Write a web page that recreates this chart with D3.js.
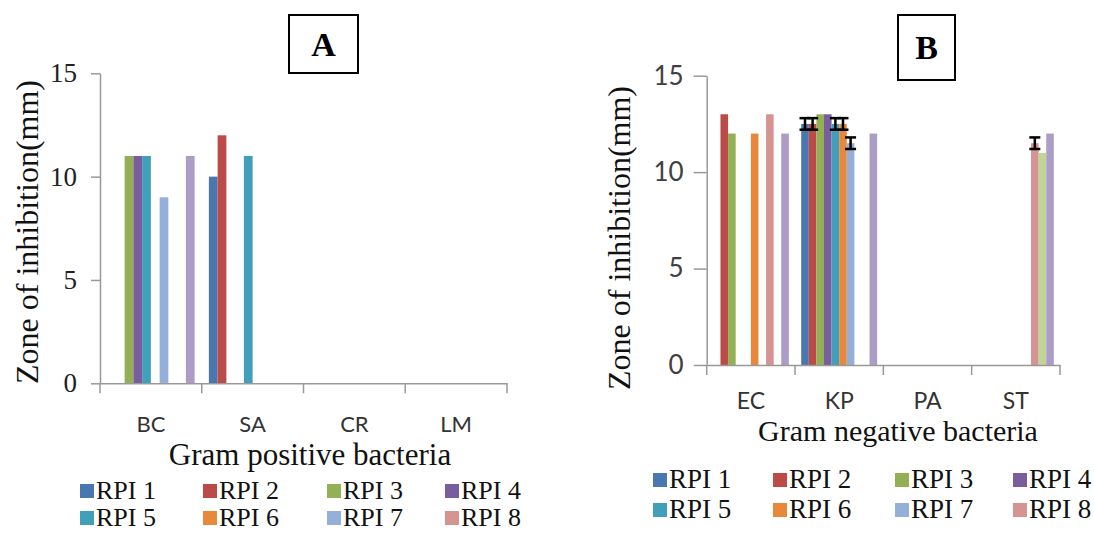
<!DOCTYPE html>
<html><head><meta charset="utf-8">
<script src="https://cdn.jsdelivr.net/npm/d3@7"></script>
<style>body{margin:0;background:#fff}svg{display:block}</style>
</head><body>
<svg id="c" width="1094" height="533"></svg>
<script>
// ---------- data ----------
const seriesNames = ["RPI 1","RPI 2","RPI 3","RPI 4","RPI 5","RPI 6","RPI 7","RPI 8","RPI 9","RPI 10"];
const legendNames = ["RPI 1","RPI 2","RPI 3","RPI 4","RPI 5","RPI 6","RPI 7","RPI 8"];
const seriesColors = ["#4A77AF","#BC4A47","#93B154","#7A5D9C","#429FB9","#E8883B","#95B0D8","#D59391","#BED596","#AC9DC6"];
const yTicks = [0,5,10,15];

const catsA = ["BC","SA","CR","LM"];
const valsA = {
  BC: [0,0,11,11,11,0,9,0,0,11],
  SA: [10,12,0,0,11,0,0,0,0,0],
  CR: [0,0,0,0,0,0,0,0,0,0],
  LM: [0,0,0,0,0,0,0,0,0,0]
};
const catsB = ["EC","KP","PA","ST"];
const valsB = {
  EC: [0,13,12,0,0,12,0,13,0,12],
  KP: [12.5,12.5,13,13,12.5,12.5,11.5,0,0,12],
  PA: [0,0,0,0,0,0,0,0,0,0],
  ST: [0,0,0,0,0,0,0,11.5,11,12]
};
const errB = {
  EC: [0,0,0,0,0,0,0,0,0,0],
  KP: [0.3,0.3,0,0,0.3,0.3,0.3,0,0,0],
  PA: [0,0,0,0,0,0,0,0,0,0],
  ST: [0,0,0,0,0,0,0,0.3,0,0]
};

// ---------- drawing ----------
const svg = d3.select("#c");
const SERIF = "'Liberation Serif','Times New Roman',serif";
const SANS = "Lato,'Liberation Sans',sans-serif";
const AXIS = "#999";

function panel(o){
  const g = svg.append("g");
  const x0 = d3.scaleBand().domain(o.cats).range([o.left, o.right]);
  const W = x0.bandwidth();
  const gap = W*0.14;
  const x1 = d3.scaleBand().domain(seriesNames).range([gap/2, W-gap/2]);
  const y = d3.scaleLinear().domain([0,15]).range([o.bottom, o.top]);

  // bars
  o.cats.forEach(c=>{
    const vals = o.vals[c];
    g.append("g").selectAll("rect").data(vals.map((v,i)=>({v,i})).filter(d=>d.v>0)).join("rect")
      .attr("x", d=>x0(c)+x1(seriesNames[d.i]))
      .attr("width", x1.bandwidth())
      .attr("y", d=>y(d.v))
      .attr("height", d=>y(0)-y(d.v))
      .attr("fill", d=>seriesColors[d.i]);
  });
  // error bars
  if(o.err){
    o.cats.forEach(c=>{
      const vals=o.vals[c], errs=o.err[c];
      errs.forEach((e,i)=>{
        if(!(e>0)) return;
        const cx = x0(c)+x1(seriesNames[i])+x1.bandwidth()/2;
        const cw = 5.5;
        const eg = g.append("g").attr("stroke","#000").attr("stroke-width",2.5);
        eg.append("line").attr("x1",cx).attr("x2",cx).attr("y1",y(vals[i]+e)).attr("y2",y(vals[i]-e));
        eg.append("line").attr("x1",cx-cw).attr("x2",cx+cw).attr("y1",y(vals[i]+e)).attr("y2",y(vals[i]+e));
        eg.append("line").attr("x1",cx-cw).attr("x2",cx+cw).attr("y1",y(vals[i]-e)).attr("y2",y(vals[i]-e));
      });
    });
  }
  // y axis
  const ya = g.append("g").attr("transform",`translate(${o.left},0)`)
    .call(d3.axisLeft(y).tickValues(yTicks).tickSize(o.tickLen).tickPadding(o.yPad).tickSizeOuter(0));
  ya.select(".domain").attr("stroke",AXIS).attr("stroke-width",1.5);
  ya.selectAll(".tick line").attr("stroke",AXIS).attr("stroke-width",1.5);
  ya.selectAll(".tick text").attr("font-family",o.tickFont).attr("font-size",o.tickSize).attr("fill",o.tickFill);
  // x axis
  const xa = g.append("g").attr("transform",`translate(0,${o.bottom})`)
    .call(d3.axisBottom(x0).tickSize(0).tickFormat(""));
  xa.select(".domain").attr("stroke",AXIS).attr("stroke-width",1.5);
  const bounds = o.cats.map(c=>x0(c)).concat([o.right]);
  g.append("g").selectAll("line").data(bounds).join("line")
    .attr("x1",d=>d).attr("x2",d=>d).attr("y1",o.bottom).attr("y2",o.bottom+10)
    .attr("stroke",AXIS).attr("stroke-width",1.5);
  g.append("g").selectAll("text").data(o.cats).join("text")
    .attr("x",c=>x0(c)+W/2).attr("y",o.catY)
    .attr("text-anchor","middle").attr("font-family",SANS).attr("font-size",o.catSize).attr("fill","#333")
    .text(c=>c);
  // axis titles
  g.append("text").attr("x",o.xtX).attr("y",o.xtY).attr("text-anchor","middle")
    .attr("font-family",SERIF).attr("font-size",o.xtSize).attr("fill","#111").text(o.xTitle);
  g.append("text").attr("transform",`translate(${o.ytX},${o.ytY}) rotate(-90)`).attr("text-anchor","middle")
    .attr("font-family",SERIF).attr("font-size",o.ytSize).attr("fill","#111").text("Zone of inhibition(mm)");
  // label box
  g.append("rect").attr("x",o.box[0]).attr("y",o.box[1]).attr("width",o.box[2]).attr("height",o.box[3])
    .attr("fill","#fff").attr("stroke","#000").attr("stroke-width",2);
  g.append("text").attr("x",o.box[0]+o.box[2]/2).attr("y",o.letterY).attr("text-anchor","middle")
    .attr("font-family",SERIF).attr("font-weight","bold").attr("font-size",34).text(o.letter);
  // legend
  const lg = g.append("g");
  legendNames.forEach((n,i)=>{
    const col=i%4,row=Math.floor(i/4);
    const lx=o.legX[col], ly=o.legY[row];
    lg.append("rect").attr("x",lx).attr("y",ly-7).attr("width",14).attr("height",14).attr("fill",seriesColors[i]);
    lg.append("text").attr("x",lx+16).attr("y",ly+8).attr("font-family",SERIF).attr("font-size",o.legSize)
      .attr("fill","#111").text(n);
  });
}

panel({cats:catsA, vals:valsA, left:100, right:507, top:73.3, bottom:383.3,
  tickLen:9, yPad:14, tickFont:SERIF, tickSize:27, tickFill:"#222",
  catY:432, catSize:22, xTitle:"Gram positive bacteria", xtX:310, xtY:465, xtSize:31,
  ytX:38, ytY:232, ytSize:32, box:[289,15,69,58], letterY:56, letter:"A",
  legX:[80,203,327,445], legY:[491,518], legSize:26});

panel({cats:catsB, vals:valsB, err:errB, left:706.7, right:1060, top:75.7, bottom:365,
  tickLen:13, yPad:10, tickFont:SANS, tickSize:26, tickFill:"#404040",
  catY:409, catSize:23, xTitle:"Gram negative bacteria", xtX:898, xtY:441, xtSize:30,
  ytX:630, ytY:238, ytSize:32, box:[898,15,57,65], letterY:59, letter:"B",
  legX:[653,773,895,1013], legY:[480,510], legSize:27});
</script>
</body></html>
